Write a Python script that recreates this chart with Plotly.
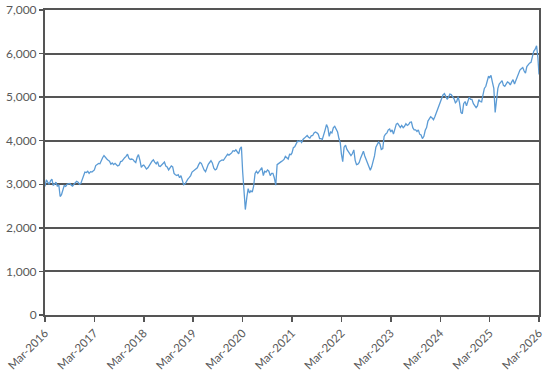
import pandas as pd
import plotly.graph_objects as go

# Index level, three readings per month (1st, 11th, 21st)
v2016 = [2950, 3100, 3050,  3000, 3080, 3120,  2980, 3000, 3050,  2950, 2990, 2720,
         2760, 2900, 2970,  2950, 3000, 3010,  3020, 2980, 2960,  3000, 3030, 3070,
         3050, 3000, 3020,  3100, 3220, 3280]
v2017 = [3270, 3300, 3250,  3290, 3280, 3320,  3330, 3430, 3460,  3480, 3470, 3560,
         3610, 3660, 3610,  3580, 3550, 3530,  3460, 3490, 3450,  3480, 3450, 3420,
         3440, 3520, 3530,  3580, 3610, 3640,  3690, 3600, 3570,  3580, 3570, 3530]
v2018 = [3500, 3620, 3680,  3550, 3390, 3430,  3440, 3400, 3350,  3380, 3450, 3480,
         3530, 3560, 3510,  3470, 3520, 3420,  3410, 3450, 3480,  3510, 3420, 3400,
         3330, 3370, 3420,  3400, 3250, 3220,  3200, 3220, 3150,  3200, 3100, 2990]
v2019 = [3010, 3080, 3120,  3160, 3200, 3280,  3300, 3330, 3350,  3380, 3450, 3500,
         3480, 3400, 3330,  3290, 3380, 3460,  3500, 3540, 3490,  3370, 3330, 3350,
         3450, 3520, 3540,  3560, 3550, 3600,  3660, 3690, 3670,  3690, 3720, 3770]
v2020 = [3760, 3790, 3740,  3700, 3820, 3860,  3300, 2750, 2420,  2700, 2900, 2800,
         2850, 2820, 2950,  3250, 3300, 3250,  3300, 3350, 3380,  3200, 3300, 3280,
         3330, 3300, 3200,  3250, 3250, 3150,  2980, 3450, 3480,  3500, 3520, 3540]
v2021 = [3570, 3640, 3600,  3580, 3690, 3680,  3720, 3840, 3860,  3950, 3990, 3980,
         4000, 3960, 4030,  4060, 4100, 4120,  4080, 4060, 4110,  4120, 4180, 4200,
         4180, 4150, 4050,  4050, 4030, 4170,  4250, 4370, 4300,  4100, 4200, 4180]
v2022 = [4300, 4330, 4250,  4200, 4050, 3950,  3700, 3520, 3850,  3900, 3800, 3750,
         3700, 3660, 3700,  3790, 3550, 3450,  3460, 3500, 3600,  3700, 3760, 3650,
         3550, 3500, 3380,  3320, 3400, 3500,  3650, 3850, 3900,  3970, 3930, 3800]
v2023 = [3820, 4100, 4150,  4180, 4250, 4270,  4200, 4250, 4150,  4300, 4380, 4400,
         4350, 4300, 4350,  4300, 4330, 4390,  4350, 4370, 4420,  4430, 4300, 4250,
         4250, 4210, 4250,  4150, 4130, 4050,  4100, 4240, 4300,  4450, 4500, 4550]
v2024 = [4520, 4480, 4550,  4650, 4700, 4800,  4900, 4990, 5050,  5080, 5030, 4950,
         5000, 5070, 5060,  5010, 4960, 4870,  4900, 5010, 4880,  4650, 4620, 4850,
         4900, 4800, 4880,  5000, 4950, 4950,  4850, 4800, 4760,  4800, 4940, 4900]
v2025 = [4890, 5050, 5200,  5250, 5400, 5480,  5450, 5500, 5350,  5200, 4650, 4950,
         5200, 5300, 5350,  5380, 5270, 5250,  5300, 5350, 5330,  5280, 5350, 5400,
         5300, 5380, 5450,  5500, 5620, 5650,  5680, 5600, 5550,  5700, 5750, 5780]
v2026 = [5800, 5950, 6050,  6100, 6180, 5900,  5520]

values = v2016 + v2017 + v2018 + v2019 + v2020 + v2021 + v2022 + v2023 + v2024 + v2025 + v2026

dates = []
for m in pd.period_range("2016-03", "2026-02", freq="M"):
    for d in (1, 11, 21):
        dates.append(pd.Timestamp(year=m.year, month=m.month, day=d))
dates.append(pd.Timestamp("2026-03-01"))
dates = dates[:len(values)]

tick_years = list(range(2016, 2027))
tick_vals = [pd.Timestamp(year=y, month=3, day=1) for y in tick_years]
tick_text = [f"Mar-{y}" for y in tick_years]

fig = go.Figure()
fig.add_trace(go.Scatter(x=dates, y=values, mode="lines",
                         line=dict(color="#5B9BD5", width=1.3),
                         hoverinfo="skip", showlegend=False))

font_col = "#595959"
line_col = "#555555"
fig.update_layout(
    width=554, height=376,
    margin=dict(l=45, r=15, t=10, b=61, autoexpand=False),
    paper_bgcolor="white", plot_bgcolor="white",
    font=dict(family="Lato, Open Sans, sans-serif", size=12, color=font_col),
)
fig.update_xaxes(
    range=[tick_vals[0], tick_vals[-1]], automargin=False,
    tickvals=tick_vals, ticktext=tick_text, tickangle=-45,
    showgrid=False, zeroline=False,
    showline=True, linecolor=line_col, linewidth=2, mirror=True,
    ticks="outside", ticklen=5, tickcolor=line_col, tickwidth=1.5,
    tickfont=dict(size=11.5, color=font_col),
)
fig.update_yaxes(
    range=[0, 7000], dtick=1000, tickformat=",", automargin=False,
    showgrid=True, gridcolor=line_col, gridwidth=2, zeroline=False,
    showline=True, linecolor=line_col, linewidth=2, mirror=True,
    ticks="outside", ticklen=4, tickcolor=line_col, tickwidth=1.5,
    tickfont=dict(size=12, color=font_col),
)

fig.write_html("out.html",
               config={"displayModeBar": False, "staticPlot": True},
               post_script="document.body.style.margin='0';document.body.style.overflow='hidden';")
